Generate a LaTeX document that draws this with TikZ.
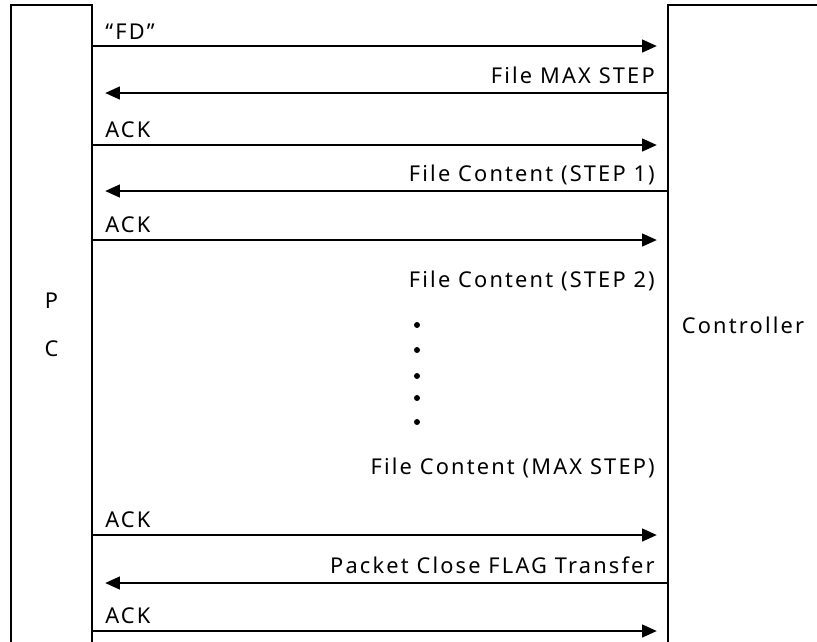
\documentclass[tikz,border=0pt]{standalone}
\usepackage{fontspec}
\setmainfont{Noto Sans}[LetterSpace=10]
\usetikzlibrary{arrows.meta, positioning}
\tikzset{
  lifebox/.style={rectangle, draw=black, line width=1.6pt,
    minimum height=16cm, inner sep=0pt, font=\fontsize{15.5}{18}\selectfont},
  msg/.style={-{Triangle[length=0.37cm, width=0.32cm]}, line width=1.4pt},
  msglabel/.style={font=\fontsize{15.5}{18}\selectfont, inner sep=0pt},
  vdot/.style={circle, fill=black, minimum size=0.15cm, inner sep=0pt}
}

\begin{document}
\begin{tikzpicture}[x=0.025cm, y=-0.025cm]
  \useasboundingbox (0,0) rectangle (817,641);

  % Lifeline boxes (both run past the lower edge)
  \node[lifebox, minimum width=2.025cm, align=center] (pc) at (51.5,325) {P\\[16pt]C};
  \node[lifebox, minimum width=4.3cm] (ctrl) at (754,325) {};
  \node[msglabel] (ctrltxt) at (743,325) {Controller};

  % Messages PC -> Controller
  \draw[msg, shorten >=0.25cm] (pc.east |- 0,46) -- (ctrl.west |- 0,46);
  \node[msglabel, anchor=base west] (lfd) at (105,39) {“FD”};
  \draw[msg, shorten >=0.25cm] (pc.east |- 0,145) -- (ctrl.west |- 0,145);
  \node[msglabel, anchor=base west] (lack1) at (105,137) {ACK};
  \draw[msg, shorten >=0.25cm] (pc.east |- 0,240) -- (ctrl.west |- 0,240);
  \node[msglabel, anchor=base west] (lack2) at (105,232) {ACK};
  \draw[msg, shorten >=0.25cm] (pc.east |- 0,535) -- (ctrl.west |- 0,535);
  \node[msglabel, anchor=base west] (lack3) at (105,527) {ACK};
  \draw[msg, shorten >=0.25cm] (pc.east |- 0,631) -- (ctrl.west |- 0,631);
  \node[msglabel, anchor=base west] (lack4) at (105,623) {ACK};

  % Messages Controller -> PC
  \draw[msg, shorten >=0.3cm] (ctrl.west |- 0,93) -- (pc.east |- 0,93);
  \node[msglabel, anchor=base east] (lmax) at (655,83) {File MAX STEP};
  \draw[msg, shorten >=0.3cm] (ctrl.west |- 0,191) -- (pc.east |- 0,191);
  \node[msglabel, anchor=base east] (lstep1) at (655,181) {File Content (STEP 1)};
  \draw[msg, shorten >=0.3cm] (ctrl.west |- 0,583) -- (pc.east |- 0,583);
  \node[msglabel, anchor=base east] (lclose) at (655,573) {Packet Close FLAG Transfer};

  % Repeated content (no arrows)
  \node[msglabel, anchor=base east] (lstep2) at (655,287) {File Content (STEP 2)};
  \node[msglabel, anchor=base east] (lstepmax) at (655,474) {File Content (MAX STEP)};
  \foreach \y [count=\i] in {325,350,376,398,422}
    \node[vdot] (d\i) at (417,\y) {};
\end{tikzpicture}
\end{document}
